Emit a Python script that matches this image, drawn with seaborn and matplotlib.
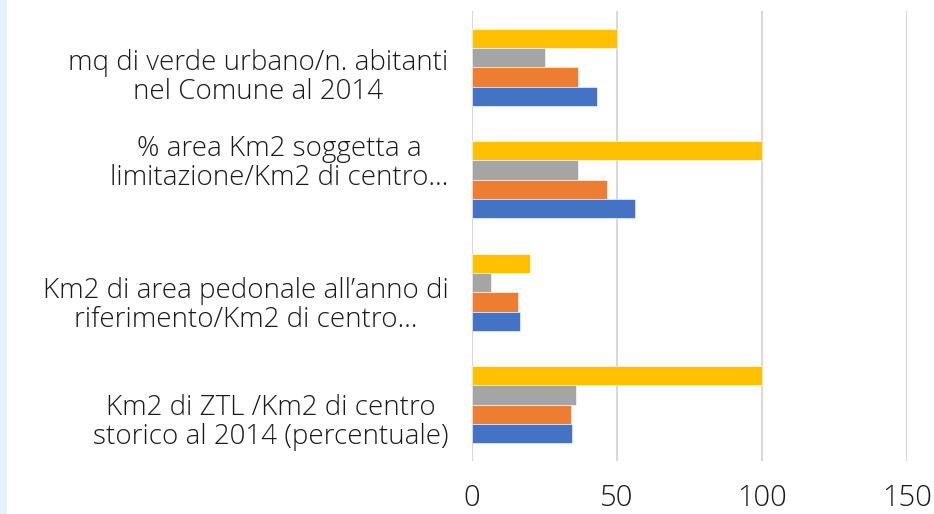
import matplotlib
matplotlib.use("Agg")
import matplotlib.pyplot as plt
import matplotlib.transforms as mtransforms
import seaborn as sns
import pandas as pd

# Dati
categorie = [
    "mq di verde urbano/n. abitanti\nnel Comune al 2014",
    "% area Km2 soggetta a\nlimitazione/Km2 di centro…",
    "Km2 di area pedonale all’anno di\nriferimento/Km2 di centro…",
    "Km2 di ZTL /Km2 di centro\nstorico al 2014 (percentuale)",
]
serie_1 = [43.1, 56.1, 16.4, 34.4]   # blu
serie_2 = [36.6, 46.6, 15.9, 34.1]   # arancio
serie_3 = [25.0, 36.6, 6.4, 35.7]    # grigio
serie_4 = [50.0, 100.0, 20.0, 100.0] # giallo
xticks = [0, 50, 100, 150]

nomi_serie = ["Serie 4", "Serie 3", "Serie 2", "Serie 1"]
colori = ["#ffc000", "#a5a5a5", "#ed7d31", "#4472c4"]

df = pd.DataFrame({
    "categoria": categorie * 4,
    "serie": [s for s in ["Serie 1", "Serie 2", "Serie 3", "Serie 4"] for _ in categorie],
    "valore": serie_1 + serie_2 + serie_3 + serie_4,
})

sns.set_theme(style="white")
plt.rcParams["font.family"] = ["Open Sans", "DejaVu Sans"]

fig = plt.figure(figsize=(9.34, 5.14), dpi=100)
ax = fig.add_axes([0.5054, 0.1031, 0.4657, 0.8755])

# striscia azzurra a sinistra
fig.patches.append(plt.Rectangle((0, 0), 7 / 934, 1, transform=fig.transFigure,
                                 facecolor="#e3f2fc", edgecolor="none", zorder=0))

sns.barplot(data=df, y="categoria", x="valore", hue="serie", hue_order=nomi_serie,
            order=categorie, palette=colori, saturation=1, orient="h", width=0.686,
            edgecolor="white", linewidth=0.4, legend=False, ax=ax, zorder=3)

ax.set_xlim(0, 150)
ax.set_ylim(3.5, -0.5)
ax.set_xticks(xticks)
ax.xaxis.grid(True, color="#d9d9d9", linewidth=1.5)
ax.set_axisbelow(True)
for s in ax.spines.values():
    s.set_visible(False)
ax.set_xlabel("")
ax.set_ylabel("")
ax.tick_params(axis="x", length=0, pad=16, labelsize=21, labelcolor="#1a1a1a")
ax.tick_params(axis="y", length=0, pad=17, labelsize=20, labelcolor="#1a1a1a")

# spostamento verticale delle etichette come nell'originale (pixel, verso il basso)
spost = [6, -20, 9, 14]
for lab, d in zip(ax.get_yticklabels(), spost):
    lab.set_multialignment("center")
    lab.set_fontweight("light")
    lab.set_linespacing(1.05)
    lab.set_transform(lab.get_transform() +
                      mtransforms.ScaledTranslation(0, -d / 100, fig.dpi_scale_trans))
for lab in ax.get_xticklabels():
    lab.set_fontweight("light")

fig.savefig("out.png", dpi=100)
